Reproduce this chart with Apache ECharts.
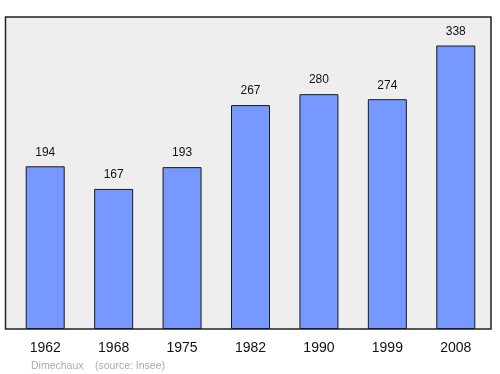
<!DOCTYPE html>
<html><head><meta charset="utf-8">
<script src="https://cdn.jsdelivr.net/npm/echarts@6/dist/echarts.min.js"></script>
<style>html,body{margin:0;padding:0;background:#fff}#c{width:500px;height:374px}</style>
</head><body><div id="c"></div>
<script>
const years = ['1962','1968','1975','1982','1990','1999','2008'];
const population = [194,167,193,267,280,274,338];
const chart = echarts.init(document.getElementById('c'), null, {renderer:'canvas'});
chart.setOption({
  animation:false,
  graphic:[
    {type:'rect', z:-10, shape:{x:5.5,y:17,width:485.5,height:312}, style:{fill:'#eeeeee', stroke:'#222', lineWidth:1.5}},
    {type:'text', left:31, top:361, style:{text:'Dimechaux', fill:'#aaaaaa', font:'10.5px "Liberation Sans", Arial, sans-serif'}},
    {type:'text', left:95, top:361, style:{text:'(source: Insee)', fill:'#aaaaaa', font:'10.5px "Liberation Sans", Arial, sans-serif'}}
  ],
  grid:{left:11, right:10, top:17, bottom:45},
  xAxis:{type:'category', data:years, axisLine:{show:false}, axisTick:{show:false},
    axisLabel:{color:'#111', fontSize:14, margin:12, fontFamily:'Liberation Sans'}},
  yAxis:{type:'value', min:0, max:372, show:false, splitLine:{show:false}},
  series:[{type:'bar', data:population, barWidth:39,
    itemStyle:{color:'#7799ff', borderColor:'#1a1a1a', borderWidth:1},
    label:{show:true, position:'top', distance:8, color:'#111', fontSize:12, fontFamily:'Liberation Sans'}}]
});
</script></body></html>
